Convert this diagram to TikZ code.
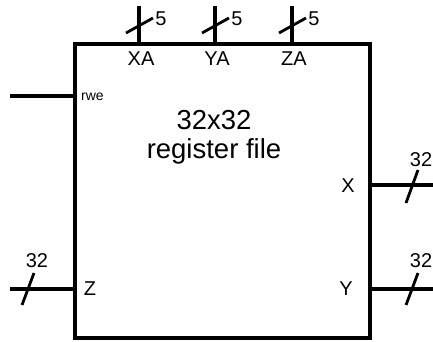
\documentclass[tikz,border=0pt]{standalone}
\usepackage{fontspec}
\setmainfont{Liberation Sans}
\begin{document}
\begin{tikzpicture}[x=1pt,y=-1pt,
  wire/.style={line width=3.2pt},
  busmark/.style={line width=2.8pt},
  lbl/.style={inner sep=0pt,font=\fontsize{20}{22}\selectfont},
  small/.style={inner sep=0pt,font=\fontsize{14}{16}\selectfont},
  big/.style={inner sep=0pt,align=center,font=\fontsize{27.5}{29}\selectfont}]
\useasboundingbox (0,0) rectangle (433,341);
\node[draw,line width=3.6pt,minimum width=295pt,minimum height=294pt,inner sep=0pt] (box) at (222.5,191) {};
\node[big] (title) at (214,137) {32x32\\register file};
% top address inputs
\foreach \n/\x in {XA/139,YA/215,ZA/292}{
  \coordinate (\n top) at (\x,6);
  \coordinate (\n in) at (\x,44);
  \draw[wire] (\n top) -- (\n in);
  \coordinate (\n sa) at (\x-13,33);
  \coordinate (\n sb) at (\x+14,18);
  \draw[busmark] (\n sa) -- (\n sb);
  \node[lbl] (\n w) at (\x+22,19) {5};
  \node[lbl] (\n l) at (\x+2,59) {\n};
}
% rwe
\coordinate (rwein) at (10,96);
\coordinate (rwe) at (75,96);
\draw[wire] (rwein) -- (rwe);
\node[small,anchor=west] (rwel) at (81,97) {rwe};
% X output
\coordinate (xo) at (370,185);
\coordinate (xe) at (433,185);
\draw[wire] (xo) -- (xe);
\coordinate (xsa) at (406,203);
\coordinate (xsb) at (418,170);
\draw[busmark] (xsa) -- (xsb);
\node[lbl] (xw) at (421,160) {32};
\node[lbl] (xl) at (348,186) {X};
% Y output
\coordinate (yo) at (370,289);
\coordinate (ye) at (433,289);
\draw[wire] (yo) -- (ye);
\coordinate (ysa) at (406,305);
\coordinate (ysb) at (418,273);
\draw[busmark] (ysa) -- (ysb);
\node[lbl] (yw) at (421,261) {32};
\node[lbl] (yl) at (346,289) {Y};
% Z input
\coordinate (zin) at (10,289);
\coordinate (zi) at (75,289);
\draw[wire] (zin) -- (zi);
\coordinate (zsa) at (22,305);
\coordinate (zsb) at (34,273);
\draw[busmark] (zsa) -- (zsb);
\node[lbl] (zw) at (37,261) {32};
\node[lbl] (zl) at (90,289) {Z};
\end{tikzpicture}
\end{document}
